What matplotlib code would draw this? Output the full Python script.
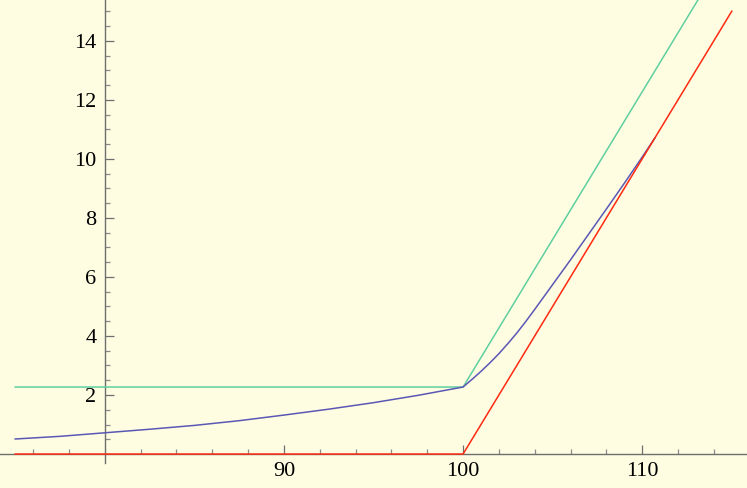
import numpy as np
import matplotlib
matplotlib.use('Agg')
import matplotlib.pyplot as plt
from matplotlib.ticker import FixedLocator

# datos
x_payoff = [75, 100, 115]
y_payoff = [0, 0, 15]           # rojo
y_prima = [2.27, 2.27, 17.27]   # verde (payoff + prima)

x_precio = [75, 77.5, 80, 82.5, 85, 87.5, 90, 92.5, 95, 97.5, 100,
            100.5, 101, 101.5, 102, 102.5, 103, 103.5, 104, 105, 106,
            107, 108, 109, 110, 110.7]
y_precio = [0.51, 0.60, 0.72, 0.84, 0.97, 1.13, 1.32, 1.52, 1.74, 1.99, 2.27,
            2.53, 2.80, 3.09, 3.40, 3.74, 4.10, 4.49, 4.90, 5.74, 6.58,
            7.44, 8.30, 9.17, 10.06, 10.70]

xticks_lab = [90, 100, 110]
yticks_lab = [2, 4, 6, 8, 10, 12, 14]

fondo = '#fefde2'
gris = '#6e6e6e'

plt.rcParams['font.family'] = ['Liberation Serif', 'DejaVu Serif']

fig = plt.figure(figsize=(7.47, 4.88), dpi=100, facecolor=fondo)
ax = fig.add_axes([0, 0, 1, 1], facecolor=fondo)

ax.plot(x_payoff, y_prima, color='#5fcf9f', lw=1.1, zorder=3)
ax.plot(x_precio, y_precio, color='#5a58b4', lw=1.1, zorder=4)
ax.plot(x_payoff, y_payoff, color='#ff2a10', lw=1.1, zorder=5)

ax.set_xlim(74.15, 115.85)
ax.set_ylim(-1.15, 15.38)

for s in ['top', 'right']:
    ax.spines[s].set_visible(False)
ax.spines['left'].set_position(('data', 80))
ax.spines['bottom'].set_position(('data', 0))
ax.spines['left'].set_bounds(-0.3, 15.38)
for s in ['left', 'bottom']:
    ax.spines[s].set_color(gris)
    ax.spines[s].set_linewidth(1.0)

ax.xaxis.set_major_locator(FixedLocator(xticks_lab))
ax.xaxis.set_minor_locator(FixedLocator([v for v in range(76, 115, 2) if v not in xticks_lab + [80]]))
ax.yaxis.set_major_locator(FixedLocator(yticks_lab))
ax.yaxis.set_minor_locator(FixedLocator([v * 0.5 for v in range(1, 31) if v * 0.5 not in yticks_lab]))

ax.tick_params(which='major', direction='in', length=6.3, width=0.9, color=gris,
               labelsize=16, labelcolor='black')
ax.tick_params(which='minor', direction='in', length=3.6, width=0.9, color='#8a8a8a')
ax.tick_params(axis='x', which='major', pad=6)
ax.tick_params(axis='y', which='major', pad=6)

fig.savefig('out.png', dpi=100, facecolor=fondo)
